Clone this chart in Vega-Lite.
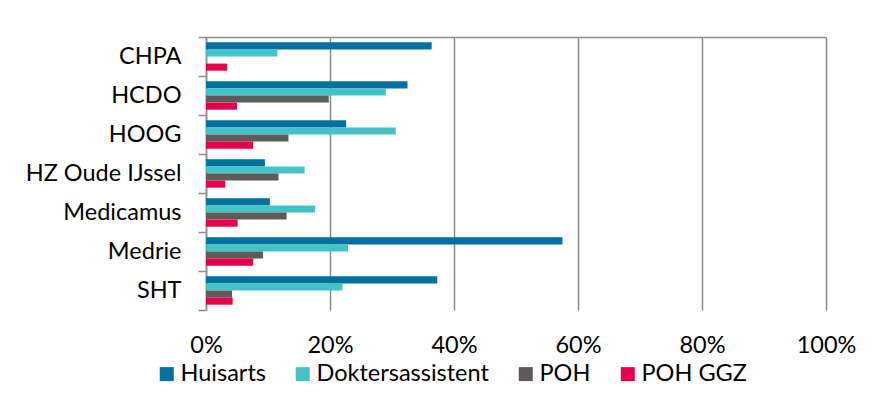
{
  "$schema": "https://vega.github.io/schema/vega-lite/v6.json",
  "width": 620,
  "height": 273,
  "autosize": {"type": "none"},
  "padding": {"left": 206, "top": 37, "right": 48, "bottom": 95},
  "background": "white",
  "config": {
    "view": {"stroke": null},
    "font": "Lato",
    "axis": {"labelFont": "Lato", "labelColor": "#000000"},
    "legend": {"labelFont": "Lato"}
  },
  "data": {
    "values": [
      {"org": "CHPA", "functie": "Huisarts", "waarde": 0.364},
      {"org": "CHPA", "functie": "Doktersassistent", "waarde": 0.115},
      {"org": "CHPA", "functie": "POH GGZ", "waarde": 0.034},
      {"org": "HCDO", "functie": "Huisarts", "waarde": 0.325},
      {"org": "HCDO", "functie": "Doktersassistent", "waarde": 0.290},
      {"org": "HCDO", "functie": "POH", "waarde": 0.198},
      {"org": "HCDO", "functie": "POH GGZ", "waarde": 0.050},
      {"org": "HOOG", "functie": "Huisarts", "waarde": 0.226},
      {"org": "HOOG", "functie": "Doktersassistent", "waarde": 0.306},
      {"org": "HOOG", "functie": "POH", "waarde": 0.133},
      {"org": "HOOG", "functie": "POH GGZ", "waarde": 0.076},
      {"org": "HZ Oude IJssel", "functie": "Huisarts", "waarde": 0.095},
      {"org": "HZ Oude IJssel", "functie": "Doktersassistent", "waarde": 0.159},
      {"org": "HZ Oude IJssel", "functie": "POH", "waarde": 0.117},
      {"org": "HZ Oude IJssel", "functie": "POH GGZ", "waarde": 0.031},
      {"org": "Medicamus", "functie": "Huisarts", "waarde": 0.103},
      {"org": "Medicamus", "functie": "Doktersassistent", "waarde": 0.176},
      {"org": "Medicamus", "functie": "POH", "waarde": 0.130},
      {"org": "Medicamus", "functie": "POH GGZ", "waarde": 0.051},
      {"org": "Medrie", "functie": "Huisarts", "waarde": 0.575},
      {"org": "Medrie", "functie": "Doktersassistent", "waarde": 0.229},
      {"org": "Medrie", "functie": "POH", "waarde": 0.092},
      {"org": "Medrie", "functie": "POH GGZ", "waarde": 0.076},
      {"org": "SHT", "functie": "Huisarts", "waarde": 0.373},
      {"org": "SHT", "functie": "Doktersassistent", "waarde": 0.220},
      {"org": "SHT", "functie": "POH", "waarde": 0.042},
      {"org": "SHT", "functie": "POH GGZ", "waarde": 0.043}
    ]
  },
  "layer": [
    {
      "mark": {"type": "bar"},
      "encoding": {
        "y": {
          "field": "org",
          "type": "nominal",
          "sort": ["CHPA", "HCDO", "HOOG", "HZ Oude IJssel", "Medicamus", "Medrie", "SHT"],
          "scale": {"paddingInner": 0, "paddingOuter": 0},
          "axis": {
            "title": null,
            "domainColor": "#8c8c8c",
            "domainWidth": 1.5,
            "tickColor": "#8c8c8c",
            "tickWidth": 1.5,
            "tickSize": 8,
            "tickBand": "extent",
            "labelFontSize": 23.5,
            "labelPadding": 17,
            "grid": false
          }
        },
        "yOffset": {
          "field": "functie",
          "type": "nominal",
          "sort": ["Huisarts", "Doktersassistent", "POH", "POH GGZ"],
          "scale": {"paddingInner": 0, "paddingOuter": 0.75}
        },
        "x": {
          "field": "waarde",
          "type": "quantitative",
          "scale": {"domain": [0, 1], "nice": false},
          "axis": {
            "title": null,
            "orient": "bottom",
            "values": [0, 0.2, 0.4, 0.6, 0.8, 1],
            "format": ".0%",
            "domain": false,
            "ticks": false,
            "grid": true,
            "gridColor": "#8c8c8c",
            "gridWidth": 1.5,
            "labelFontSize": 23.5,
            "labelPadding": 23,
            "labelFlush": false
          }
        },
        "color": {
          "field": "functie",
          "type": "nominal",
          "sort": ["Huisarts", "Doktersassistent", "POH", "POH GGZ"],
          "scale": {
            "domain": ["Huisarts", "Doktersassistent", "POH", "POH GGZ"],
            "range": ["#0071a1", "#43c3c6", "#5f5a58", "#e6004b"]
          },
          "legend": {
            "title": null,
            "orient": "none",
            "direction": "horizontal",
            "legendX": -51,
            "legendY": 325,
            "symbolType": "square",
            "symbolSize": 196,
            "symbolStrokeWidth": 0,
            "labelFontSize": 23.5,
            "labelOffset": 2,
            "columnPadding": 25,
            "labelLimit": 300
          }
        }
      }
    },
    {
      "mark": {"type": "bar", "opacity": 0},
      "encoding": {
        "y": {
          "field": "org",
          "type": "nominal",
          "sort": ["CHPA", "HCDO", "HOOG", "HZ Oude IJssel", "Medicamus", "Medrie", "SHT"]
        },
        "x": {
          "field": "waarde",
          "type": "quantitative",
          "axis": {
            "title": null,
            "orient": "top",
            "labels": false,
            "ticks": false,
            "grid": false,
            "domain": true,
            "domainColor": "#8c8c8c",
            "domainWidth": 1.5
          }
        }
      }
    }
  ],
  "resolve": {"axis": {"x": "independent"}}
}
